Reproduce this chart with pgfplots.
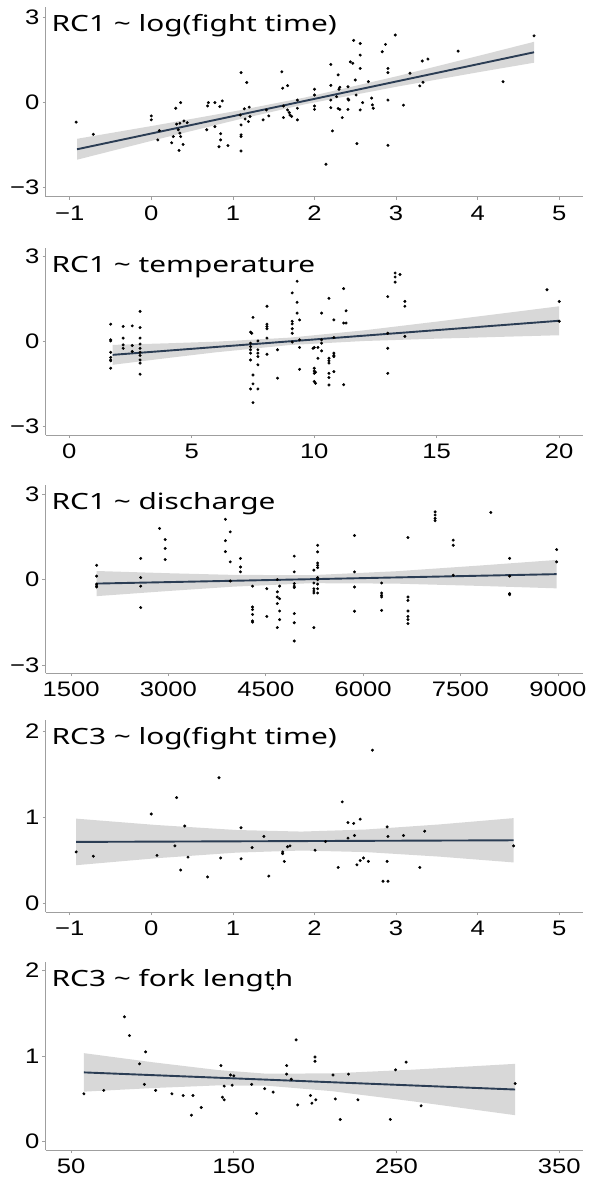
\documentclass[border=0pt]{standalone}
\usepackage{pgfplots}
\pgfplotsset{compat=1.18}
\usepackage{fontspec}
\setmainfont[FakeStretch=1.22]{Liberation Sans}
\newfontfamily\titlefont[FakeStretch=1.33]{Noto Sans}
\definecolor{fitline}{HTML}{2B3D54}
\definecolor{bandc}{HTML}{999999}
\pgfplotsset{
  panel/.style={
    scale only axis, width=537.5pt,
    axis lines=left,
    axis line style={-, draw=gray!75, line width=0.8pt},
    major tick length=3pt, tick align=outside,
    tick style={draw=gray!75, line width=0.6pt},
    tick label style={font=\fontsize{21}{21}\selectfont, black, inner sep=0pt},
    xticklabel style={anchor=north, yshift=-6pt},
    yticklabel style={anchor=east, xshift=-3pt},
    clip=false,
  },
  pts/.style={only marks, mark=*, mark size=1.3pt, black},
  band/.style={fill=bandc, fill opacity=0.38, draw=none},
  fit/.style={fitline, line width=1.9pt, no marks},
}
\tikzset{ttl/.style={anchor=base west, inner sep=0pt, xshift=6pt, yshift=-24.5pt, font=\titlefont\fontsize{22.4}{22.4}\selectfont}}
\begin{document}
\begin{tikzpicture}
\useasboundingbox (0,0) rectangle (589pt,-1177pt);
% Panel 1
\begin{axis}[panel, at={(45.5pt,-196.5pt)}, anchor=south west, height=189.5pt,
  xmin=-1.296, xmax=5.29, ymin=-3.32, ymax=3.38,
  xtick={-1,0,1,2,3,4,5}, xticklabels={−1,0,1,2,3,4,5},
  ytick={-3,0,3}, yticklabels={−3,0,3}]
\addplot[pts] coordinates {(-0.92,-0.69) (-0.71,-1.12) (0.00,-0.47) (0.00,-0.61) (0.08,-1.32) (0.10,-0.99) (0.25,-1.42) (0.27,-1.20) (0.30,-0.20) (0.31,-0.76) (0.34,-1.69) (0.36,0.00) (0.35,-0.73) (0.35,-1.08) (0.36,-1.20) (0.39,-1.48) (0.40,-0.65) (0.44,-0.71) (0.33,-0.96) (0.69,-0.12) (0.70,0.00) (0.68,-0.96) (0.78,-0.85) (0.78,0.00) (0.83,-1.56) (0.84,-0.14) (0.85,-1.10) (0.85,-1.32) (0.87,0.06) (0.94,-1.52) (1.10,1.06) (1.10,-0.79) (1.10,-1.14) (1.10,-1.20) (1.10,-1.71) (1.09,-0.44) (1.14,-0.22) (1.17,0.71) (1.15,-0.58) (1.19,-0.67) (1.20,-0.16) (1.21,-0.49) (1.37,-0.61) (1.41,-0.26) (1.44,-0.47) (1.60,1.09) (1.61,0.51) (1.62,-0.12) (1.62,-0.53) (1.67,0.60) (1.67,-0.26) (1.69,-0.35) (1.70,-0.44) (1.72,-0.49) (1.79,0.09) (1.79,-0.20) (1.79,-0.61) (2.00,0.47) (2.00,0.27) (2.00,-0.12) (2.00,-0.24) (2.14,-2.18) (2.20,1.35) (2.20,0.61) (2.20,0.09) (2.20,-0.18) (2.22,-1.00) (2.27,0.21) (2.29,0.98) (2.30,0.47) (2.31,0.54) (2.29,-0.21) (2.31,-0.24) (2.34,-0.53) (2.41,0.56) (2.41,0.13) (2.41,-0.24) (2.42,0.09) (2.44,1.44) (2.47,1.39) (2.48,2.20) (2.50,0.80) (2.51,0.27) (2.52,-1.45) (2.56,2.09) (2.56,1.68) (2.56,1.21) (2.56,-0.26) (2.59,0.00) (2.66,0.74) (2.70,0.16) (2.71,-0.08) (2.72,-0.20) (2.83,1.80) (2.87,2.06) (2.90,1.21) (2.90,1.06) (2.90,0.09) (2.90,-1.51) (2.99,2.39) (3.09,-0.09) (3.17,1.04) (3.29,0.59) (3.32,1.47) (3.33,0.72) (3.39,1.54) (3.76,1.82) (4.31,0.74) (4.69,2.36)};
\addplot[band] coordinates {(-0.91,-1.28) (0.06,-0.80) (1.05,-0.29) (1.89,0.185) (3.03,0.946) (4.02,1.66) (4.69,2.15) (4.69,1.41) (4.02,1.08) (3.03,0.574) (1.89,-0.055) (1.05,-0.61) (0.06,-1.31) (-0.91,-2.02)} -- cycle;
\addplot[fit] coordinates {(-0.91,-1.65) (4.69,1.78)};
\node[ttl] at (rel axis cs:0,1) {RC1 \textasciitilde{} log(fight time)};
\end{axis}
% Panel 2
\begin{axis}[panel, at={(45.5pt,-435pt)}, anchor=south west, height=187pt,
  xmin=-0.97, xmax=20.97, ymin=-3.29, ymax=3.29,
  xtick={0,5,10,15,20}, xticklabels={0,5,10,15,20},
  ytick={-3,0,3}, yticklabels={−3,0,3}]
\addplot[pts] coordinates {(1.69,0.61) (1.69,0.06) (1.69,0.02) (1.69,-0.38) (1.69,-0.56) (1.69,-0.65) (1.69,-0.68) (1.69,-0.94)
(2.2,0.53) (2.2,0.12) (2.2,-0.12) (2.2,-0.24)
(2.57,0.55) (2.57,-0.14) (2.57,-0.35)
(2.89,1.06) (2.89,0.49) (2.89,0.12) (2.89,-0.09) (2.89,-0.24) (2.89,-0.38) (2.89,-0.49) (2.89,-0.65) (2.89,-0.76) (2.89,-1.15)
(7.5,0.85) (7.4,0.33) (7.45,0.29) (7.4,-0.06) (7.4,-0.18) (7.4,-0.29) (7.4,-0.41) (7.4,-0.65) (7.5,-1.18) (7.5,-1.49) (7.4,-1.67) (7.5,-2.15)
(7.7,0.02) (7.7,-0.29) (7.7,-0.41) (7.7,-0.53) (7.7,-0.82) (7.7,-1.67)
(8.07,1.24) (8.07,0.61) (8.07,0.53) (8.07,0.45) (8.07,0.12) (8.07,-0.45)
(8.5,-0.29) (8.5,-1.29)
(9.1,1.71) (9.1,0.71) (9.1,0.62) (9.1,0.45) (9.1,0.29) (9.1,-0.02)
(9.3,2.12) (9.3,1.38) (9.3,1.0)
(9.4,0.76) (9.4,0.06) (9.4,-0.21) (9.4,-0.98)
(10.0,-0.21) (9.95,-0.24) (10.0,-0.94) (10.0,-1.04) (10.05,-1.08) (10.0,-1.12) (10.0,-1.41) (10.05,-1.47)
(10.15,-0.21) (10.15,-0.59)
(10.3,1.0) (10.3,0.06) (10.3,-0.06) (10.3,-0.33)
(10.6,1.52) (10.6,-0.59) (10.6,-0.68) (10.6,-0.76) (10.6,-1.12) (10.6,-1.27) (10.6,-1.53)
(10.8,0.76) (10.8,0.14) (10.8,-0.41) (10.8,-0.49) (10.8,-0.53) (10.8,-1.06)
(11.2,1.86) (11.2,0.65) (11.2,-1.52)
(11.3,1.08) (11.3,0.65)
(13.0,1.58) (13.0,0.29) (13.0,-0.24) (13.0,-1.12)
(13.3,2.41) (13.3,2.27) (13.3,2.09) (13.5,2.36)
(13.7,1.41) (13.7,1.24) (13.7,0.18)
(19.5,1.82) (20.0,1.41) (20.0,0.71)};
\addplot[band] coordinates {(1.77,-0.12) (4,-0.063) (6,-0.005) (9,0.136) (12,0.39) (15,0.70) (17.5,0.969) (20,1.24) (20,0.22) (17.5,0.161) (15,0.10) (12,0.016) (9,-0.124) (6,-0.379) (4,-0.583) (1.77,-0.82)} -- cycle;
\addplot[fit] coordinates {(1.77,-0.47) (20,0.73)};
\node[ttl] at (rel axis cs:0,1) {RC1 \textasciitilde{} temperature};
\end{axis}
% Panel 3
\begin{axis}[panel, at={(45.5pt,-673pt)}, anchor=south west, height=188pt,
  xmin=1106, xmax=9388, ymin=-3.27, ymax=3.31,
  xtick={1500,3000,4500,6000,7500,9000}, xticklabels={1500,3000,4500,6000,7500,9000},
  ytick={-3,0,3}, yticklabels={−3,0,3}]
\addplot[pts] coordinates {(1894,0.50) (1894,0.12) (1894,-0.16) (1894,-0.23) (1894,-0.26)
(2573,0.74) (2573,0.07) (2573,-0.23) (2573,-0.98)
(2863,1.79) (2950,1.40) (2950,1.09) (2950,0.70)
(3878,2.11) (3878,1.36) (3878,0.98)
(3953,1.67) (3953,0.62) (3953,-0.05)
(4110,0.74) (4110,0.44) (4110,0.27)
(4296,-0.23) (4296,-0.96) (4296,-1.05) (4296,-1.22) (4296,-1.45) (4296,-1.49)
(4516,-0.32) (4516,-1.29)
(4678,0.00) (4678,-0.43) (4678,-0.61) (4678,-0.84) (4678,-1.68)
(4713,-0.23) (4713,-0.67) (4713,-1.10) (4713,-1.40)
(4939,0.82) (4939,0.27) (4939,-0.14) (4939,-0.23) (4939,-0.28) (4939,-1.19) (4939,-1.51) (4939,-2.15)
(5241,0.33) (5241,-0.12) (5241,-0.32) (5241,-0.40) (5241,-0.47) (5241,-1.68)
(5299,1.20) (5299,0.97) (5299,0.58) (5299,0.50) (5299,0.42) (5299,0.07) (5299,0.00) (5299,-0.16) (5299,-0.32) (5299,-0.47)
(5867,1.54) (5867,0.27) (5867,-0.26) (5867,-1.11)
(6285,-0.12) (6285,-0.47) (6285,-0.55) (6285,-0.61) (6285,-1.08)
(6691,1.47) (6691,-0.61) (6691,-0.73) (6691,-1.10) (6691,-1.29) (6691,-1.40) (6691,-1.54)
(7109,2.37) (7109,2.26) (7109,2.14) (7109,2.06)
(7388,1.38) (7388,1.20) (7388,0.15)
(7967,2.35)
(8257,0.74) (8257,0.12) (8257,-0.49) (8257,-0.53)
(8982,1.05) (8982,0.62)};
\addplot[band] coordinates {(1894,0.30) (3000,0.2225) (4000,0.164) (5200,0.154) (6500,0.2905) (7800,0.492) (8982,0.687) (8982,-0.307) (7800,-0.222) (6500,-0.1415) (5200,-0.126) (4000,-0.248) (3000,-0.3995) (1894,-0.58)} -- cycle;
\addplot[fit] coordinates {(1894,-0.14) (8982,0.19)};
\node[ttl] at (rel axis cs:0,1) {RC1 \textasciitilde{} discharge};
\end{axis}
% Panel 4
\begin{axis}[panel, at={(45.5pt,-912pt)}, anchor=south west, height=192pt,
  xmin=-1.296, xmax=5.29, ymin=-0.097, ymax=2.13,
  xtick={-1,0,1,2,3,4,5}, xticklabels={−1,0,1,2,3,4,5},
  ytick={0,1,2}, yticklabels={0,1,2}]
\addplot[pts] coordinates {(-0.92,0.60) (-0.71,0.55) (0.00,1.04) (0.07,0.56) (0.29,0.67) (0.31,1.23) (0.36,0.39) (0.41,0.90) (0.45,0.54) (0.69,0.31) (0.83,1.46) (0.85,0.53) (1.10,0.88) (1.10,0.52) (1.235,0.65) (1.38,0.78) (1.44,0.32) (1.61,0.60) (1.61,0.58) (1.63,0.49) (1.67,0.66) (1.70,0.67) (2.007,0.62) (2.135,0.72) (2.29,0.42) (2.34,1.18) (2.41,0.94) (2.41,0.76) (2.48,0.93) (2.49,0.79) (2.52,0.45) (2.56,0.98) (2.56,0.50) (2.60,0.53) (2.66,0.49) (2.71,1.78) (2.84,0.26) (2.89,0.89) (2.89,0.49) (2.90,0.26) (2.90,0.78) (3.09,0.79) (3.29,0.42) (3.35,0.84) (4.44,0.67)};
\addplot[band] coordinates {(-0.92,0.986) (0.058,0.9125) (1.047,0.854) (1.839,0.836) (2.63,0.860) (3.52,0.918) (4.44,0.992) (4.44,0.478) (3.52,0.546) (2.63,0.598) (1.839,0.616) (1.047,0.592) (0.058,0.5265) (-0.92,0.446)} -- cycle;
\addplot[fit] coordinates {(-0.92,0.716) (4.44,0.735)};
\node[ttl] at (rel axis cs:0,1) {RC3 \textasciitilde{} log(fight time)};
\end{axis}
% Panel 5
\begin{axis}[panel, at={(45.5pt,-1150pt)}, anchor=south west, height=188pt,
  xmin=34.3, xmax=364.6, ymin=-0.097, ymax=2.10,
  xtick={50,150,250,350}, xticklabels={50,150,250,350},
  ytick={0,1,2}, yticklabels={0,1,2}]
\addplot[pts] coordinates {(57.9,0.56) (70.1,0.60) (82.8,1.46) (85.9,1.24) (92.1,0.91) (95.1,0.67) (95.8,1.05) (102,0.60) (112,0.56) (118.9,0.54) (124,0.31) (124.9,0.54) (130,0.40) (142.1,0.89) (143,0.52) (144.1,0.49) (144.1,0.65) (148,0.78) (149,0.66) (150,0.77) (161,0.67) (164,0.33) (169,0.62) (173.8,1.79) (174.2,0.58) (182.5,0.89) (182.5,0.79) (185.3,0.73) (188.3,1.19) (189.3,0.43) (197.1,0.54) (198,0.45) (199.9,0.99) (199.9,0.94) (200.4,0.49) (211,0.78) (212.4,0.50) (215.4,0.26) (220.5,0.79) (226.3,0.49) (246.2,0.26) (249.4,0.84) (255.9,0.93) (265.1,0.42) (322.9,0.68)};
\addplot[band] coordinates {(57.9,1.035) (100,0.929) (140,0.838) (170,0.795) (210,0.7986) (260,0.842) (322.9,0.91) (322.9,0.31) (260,0.472) (210,0.5914) (170,0.655) (140,0.658) (100,0.627) (57.9,0.585)} -- cycle;
\addplot[fit] coordinates {(57.9,0.81) (322.9,0.61)};
\node[ttl] at (rel axis cs:0,1) {RC3 \textasciitilde{} fork length};
\end{axis}
\end{tikzpicture}
\end{document}
